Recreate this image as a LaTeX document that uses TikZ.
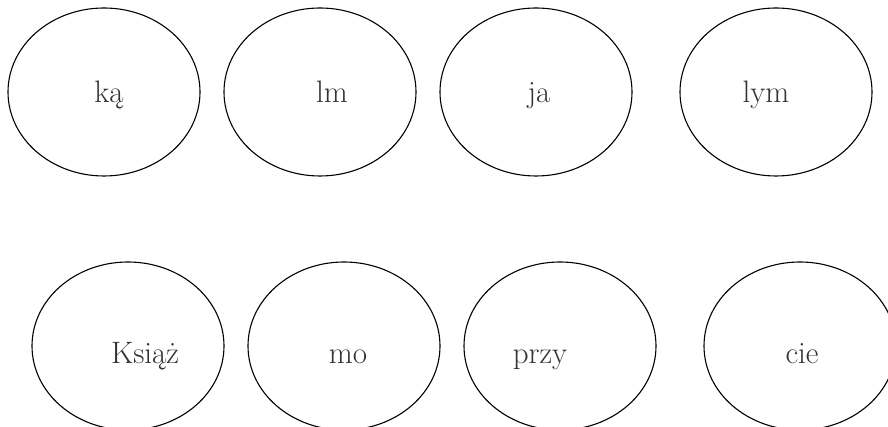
\documentclass[tikz,border=0pt]{standalone}
\usetikzlibrary{shapes.geometric}
\tikzset{
  blob/.style={draw=black, line width=1.1pt, ellipse, minimum width=192pt, minimum height=168pt, inner sep=0pt},
  word/.style={anchor=base, inner sep=0pt, font=\fontsize{31}{36}\selectfont, text=black!80}
}
\begin{document}
\begin{tikzpicture}[x=1pt,y=1pt]
\useasboundingbox (0,0) rectangle (888,427);
% top row (image y 92 -> 335)
\node[blob] (e1) at (104,335) {};
\node[blob] (e2) at (320,335) {};
\node[blob] (e3) at (536,335) {};
\node[blob] (e4) at (776,335) {};
% bottom row (image y 346 -> 81)
\node[blob] (e5) at (128,81) {};
\node[blob] (e6) at (344,81) {};
\node[blob] (e7) at (560,81) {};
\node[blob] (e8) at (800,81) {};
% texts (baselines: top 103 -> 324, bottom 364 -> 63)
\node[word] (t1) at (109,324) {ką};
\node[word] (t2) at (332,324) {lm};
\node[word] (t3) at (539,324) {ja};
\node[word] (t4) at (766,324) {lym};
\node[word] (t5) at (145,63) {Książ};
\node[word] (t6) at (348,63) {mo};
\node[word] (t7) at (540,63) {przy};
\node[word] (t8) at (802,63) {cie};
\end{tikzpicture}
\end{document}
